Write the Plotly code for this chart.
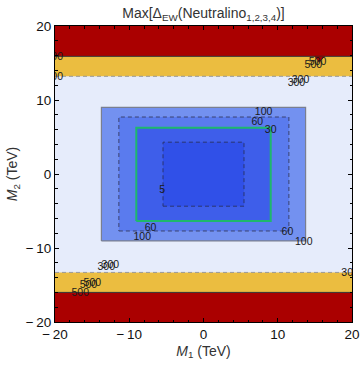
import plotly.graph_objects as go

# ---- data ----
rect_levels = [5, 30, 60, 100]
rect_m1_lo = [-5.45, -9.05, -11.4, -13.75]
rect_m1_hi = [5.45, 9.05, 11.5, 13.75]
rect_m2_lo = [-4.35, -6.35, -7.7, -9.05]
rect_m2_hi = [4.3, 6.25, 7.7, 9.0]
rect_fill = ["#3050e8", "#3e5eea", "#5a7bee", "#7391f0"]   # inside each contour
rect_line_color = ["#2a3570", "#1fb86c", "#3a4270", "#7a7f90"]
rect_line_dash = ["dash", "solid", "dash", "solid"]
rect_line_width = [1, 2, 1, 1.2]

band_levels = [300, 500]
band_lo = [-13.3, -16.0]
band_hi = [13.2, 15.9]
band_fill = ["#ebbd40", "#aa0000"]
band_line_color = ["#9a9a9a", "#333333"]
band_line_dash = ["dash", "solid"]
bg_color = "#e6ecfb"

# small spike of the 500 contour near the top-right
spike_m1 = [15.0, 15.55, 16.3, 15.0]
spike_m2 = [15.9, 15.1, 15.9, 15.9]

label_text = ["100", "60", "30", "5", "60", "100", "60", "100",
              "500", "500", "300", "300",
              "300", "300", "500", "500", "500",
              "500", "300", "300"]
label_x = [8.1, 7.25, 9.05, -5.55, -7.13, -8.25, 11.3, 13.5,
           14.8, 15.35, 12.52, 13.06,
           -13.1, -12.55, -15.5, -14.97, -16.6,
           -20.1, -20.1, 19.75]
label_y = [8.27, 7.0, 5.85, -2.24, -7.36, -8.5, -7.9, -9.2,
           14.74, 15.15, 12.3, 12.6,
           -12.6, -12.35, -15.04, -14.77, -16.1,
           15.78, 13.09, -13.4]

x_range = [-20, 20]
y_range = [-20, 20]
major_ticks = [-20, -10, 0, 10, 20]
major_labels = ["\u2212\u200920", "\u2212\u200910", "0", "10", "20"]

FONT = "Liberation Sans, Arial, sans-serif"

fig = go.Figure()

# bands (top and bottom)
for i in range(len(band_levels)):
    top_hi = band_hi[i + 1] if i + 1 < len(band_hi) else y_range[1]
    bot_lo = band_lo[i + 1] if i + 1 < len(band_lo) else y_range[0]
    for (ya, yb) in [(band_hi[i], top_hi), (bot_lo, band_lo[i])]:
        fig.add_trace(go.Scatter(
            x=[x_range[0], x_range[1], x_range[1], x_range[0], x_range[0]],
            y=[ya, ya, yb, yb, ya], mode="lines", fill="toself",
            fillcolor=band_fill[i], line=dict(width=0), hoverinfo="skip",
            showlegend=False))
for i in range(len(band_levels)):
    for yv in [band_lo[i], band_hi[i]]:
        fig.add_trace(go.Scatter(
            x=[x_range[0], x_range[1]], y=[yv, yv], mode="lines",
            line=dict(color=band_line_color[i], width=1,
                      dash="4px,3px" if band_line_dash[i] == "dash" else "solid"),
            hoverinfo="skip", showlegend=False))

fig.add_trace(go.Scatter(
    x=spike_m1, y=spike_m2, mode="lines", fill="toself",
    fillcolor=band_fill[1], line=dict(color="#5a1a10", width=0.8),
    hoverinfo="skip", showlegend=False))

# nested rectangles, outermost first
for i in reversed(range(len(rect_levels))):
    xs = [rect_m1_lo[i], rect_m1_hi[i], rect_m1_hi[i], rect_m1_lo[i], rect_m1_lo[i]]
    ys = [rect_m2_lo[i], rect_m2_lo[i], rect_m2_hi[i], rect_m2_hi[i], rect_m2_lo[i]]
    fig.add_trace(go.Scatter(
        x=xs, y=ys, mode="lines", fill="toself", fillcolor=rect_fill[i],
        line=dict(color=rect_line_color[i], width=rect_line_width[i],
                  dash="4px,3px" if rect_line_dash[i] == "dash" else "solid"),
        hoverinfo="skip", showlegend=False))

# contour labels
fig.add_trace(go.Scatter(
    x=label_x, y=label_y, mode="text", text=label_text,
    textfont=dict(family=FONT, size=10.5, color="#1a1a1a"),
    cliponaxis=True, hoverinfo="skip", showlegend=False))

axis_common = dict(
    tickvals=major_ticks, ticktext=major_labels,
    ticks="inside", ticklen=4, tickwidth=1, tickcolor="#000",
    showline=True, linecolor="#000", linewidth=1, mirror="allticks",
    showgrid=False, zeroline=False, automargin=False,
    minor=dict(dtick=2, ticks="inside", ticklen=2.5, tickcolor="#000", showgrid=False),
    tickfont=dict(family=FONT, size=13.5, color="#111"),
)

fig.update_layout(
    width=360, height=368,
    margin=dict(l=55, r=8, t=26, b=46),
    plot_bgcolor=bg_color, paper_bgcolor="white",
    title=dict(text="Max[\u0394<sub>EW</sub>(Neutralino<sub>1,2,3,4</sub>)]",
               xref="paper", x=0.5, xanchor="center",
               yref="container", y=0.965, yanchor="middle",
               font=dict(family=FONT, size=14, color="#333")),
    xaxis=dict(axis_common, range=x_range,
               title=dict(text="<i>M</i><sub>1</sub> (TeV)", standoff=4,
                          font=dict(family=FONT, size=14, color="#333"))),
    yaxis=dict(axis_common, range=y_range,
               title=dict(text="<i>M</i><sub>2</sub> (TeV)", standoff=4,
                          font=dict(family=FONT, size=14, color="#333"))),
)

fig.write_html("out.html", config={"displayModeBar": False},
               post_script="document.body.style.margin='0';"
                           "document.body.style.overflow='hidden';")
